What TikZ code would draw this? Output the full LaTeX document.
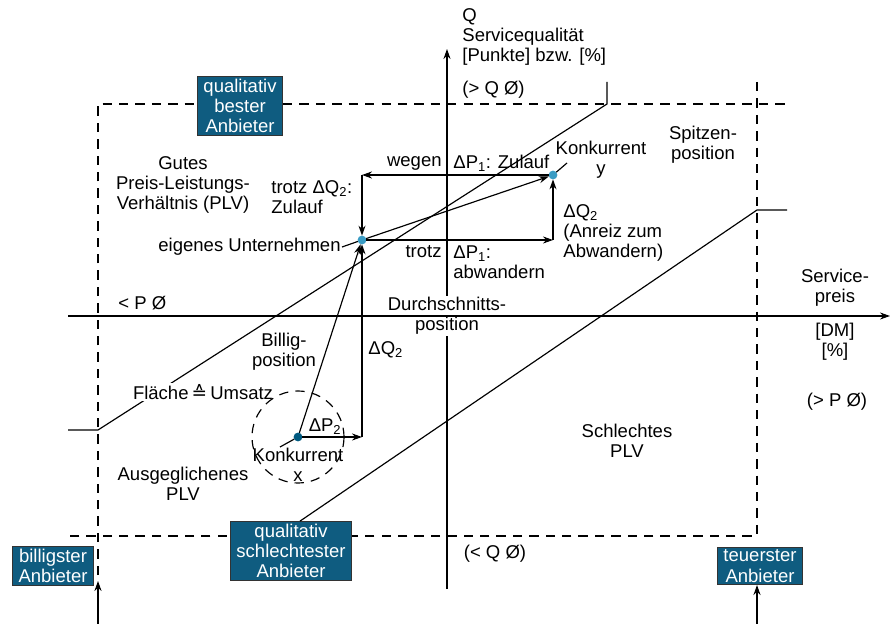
\documentclass[tikz,border=0pt]{standalone}
\usepackage{fontspec}
\setmainfont{Liberation Sans}
\newfontfamily\symfont{DejaVu Sans}
\usepackage{tikz}
\usetikzlibrary{arrows.meta,positioning,calc}
\definecolor{boxblue}{HTML}{0F5C80}
\definecolor{dotlight}{HTML}{3A9CC4}
\definecolor{dotdark}{HTML}{005A80}
\tikzset{
    rel line/.style={line width=1pt},
    arr/.style={->,>={Stealth[length=8.5pt,width=6pt]},line width=1pt},
    border line/.style={line width=1pt,dash pattern=on 8pt off 6pt},
    provider box/.style={fill=boxblue,draw=black!80,line width=0.8pt,text=white,align=center,inner xsep=5pt,inner ysep=2pt},
    firm dot/.style={circle,inner sep=0pt,outer sep=0pt,minimum size=7.5pt,fill=#1},
    txt/.style={align=center,inner sep=1pt},
}
\tikzstyle{every node}=[font=\fontsize{15.8}{17.3}\selectfont]

\begin{document}
\begin{tikzpicture}[x=0.03cm,y=-0.03cm]
        \useasboundingbox (0,0) rectangle (893,624);

        % dashed frame
        \draw[border line] (98,575) -- (98,104) -- (787,104);
        \draw[border line] (757,82) -- (757,536) -- (68,536);

        % providers
        \node[provider box] (best) at (240,106) {qualitativ\\bester\\Anbieter};
        \node[provider box] (cheap) at (53,566) {billigster\\Anbieter};
        \node[provider box] (worst) at (291,551) {qualitativ\\schlechtester\\Anbieter};
        \node[provider box] (dear) at (760,566) {teuerster\\Anbieter};
        \coordinate (cheap foot) at (98,624);
        \coordinate (cheap tip) at (98,581);
        \coordinate (dear foot) at (757,624);
        \draw[arr] (cheap foot) -- (cheap tip);
        \draw[arr] (dear foot) -- (dear.south -| dear foot);

        % axes
        \coordinate (Q0) at (447,589);
        \coordinate (Q1) at (447,49);
        \coordinate (P0) at (68,316);
        \coordinate (P1) at (890,316);
        \draw[arr] (Q0) -- (Q1);
        \node[txt, fill=white] (durch) at (447,316) {Durchschnitts-\\position};
        \draw[arr] (P0) -- (P1);

        % price-quality lines
        \coordinate (upper low) at (98,430);
        \coordinate (upper high) at (607,104);
        \draw[rel line] (68,430) -- (upper low) -- (upper high) -- (607,82);
        \coordinate (lower high) at (757,210);
        \draw[rel line] ($(worst.north)+(9,0)$) -- (lower high) -- (787,210);
        \node[txt, fill=white] (flaeche) at (203,392) {Fläche\,{\symfont ≙}\,Umsatz};

        % competitors
        \node[firm dot=dotlight] (own) at (362,240) {};
        \node[firm dot=dotlight] (rivaly) at (553,175) {};
        \node[firm dot=dotdark] (rivalx) at (298,437) {};
        \coordinate (c1) at (362,175);
        \coordinate (c2) at (553,240);
        \coordinate (c3) at (362,437);

        \draw[arr] (rivaly) -- (c1);
        \draw[arr] (c1) -- (own);
        \draw[arr] (own) -- (c2);
        \draw[arr] (c2) -- (rivaly);
        \draw[arr] (own) -- (rivaly);
        \draw[arr] (rivalx) -- (c3);
        \draw[arr] (c3) -- (own);
        \draw[arr] (rivalx) -- (own);
        \draw[border line] (rivalx) circle (1.38cm);

        % labels
        \node[txt, anchor=east] (ownlab) at (342,247) {eigenes Unternehmen};
        \draw[rel line] (ownlab.east) -- (own);
        \node[txt] (ylab) at (601,160) {Konkurrent\\y};
        \coordinate (ytip) at (567,163);
        \draw[rel line] (rivaly) -- (ytip);
        \node[txt] (xlab) at (298,465) {Konkurrent\\x};
        \coordinate (xtip) at (280,447);
        \draw[rel line] (rivalx) -- (xtip);

        \node[txt, anchor=west, align=left] (qlab) at (461,37) {Q\\Servicequalität\\{}[Punkte] bzw. [\%]};
        \node[txt, anchor=west] (qhigh) at (461,90) {(> Q Ø)};
        \node[txt] (top) at (703,145) {Spitzen-\\position};
        \node[txt, anchor=east] (wegen) at (443,163) {wegen};
        \node[txt, anchor=west] (zulauf) at (452,163) {ΔP\textsubscript{1}: Zulauf};
        \node[txt, anchor=west, align=left] (trotzq) at (270,197) {trotz ΔQ\textsubscript{2}:\\Zulauf};
        \node[txt] (good) at (183,185) {Gutes\\Preis-Leistungs-\\Verhältnis (PLV)};
        \node[txt, anchor=east] (trotz) at (443,252) {trotz};
        \node[txt, anchor=west, align=left] (abw) at (452,262) {ΔP\textsubscript{1}:\\abwandern};
        \node[txt, anchor=west, align=left] (anreiz) at (562,233) {ΔQ\textsubscript{2}\\(Anreiz zum\\Abwandern)};
        \node[txt] (plab) at (835,288) {Service-\\preis};
        \node[txt] (punit) at (835,342) {[DM]\\{}[\%]};
        \node[txt] (phigh) at (837,402) {(> P Ø)};
        \node[txt, anchor=west] (plow) at (117,303) {< P Ø};
        \node[txt] (billig) at (284,352) {Billig-\\position};
        \node[txt, anchor=west] (dq) at (367,350) {ΔQ\textsubscript{2}};
        \node[txt] (dp) at (325,427) {ΔP\textsubscript{2}};
        \node[txt] (even) at (183,484) {Ausgeglichenes\\PLV};
        \node[txt] (bad) at (627,441) {Schlechtes\\PLV};
        \node[txt] (qlow) at (495,554) {(< Q Ø)};
    \end{tikzpicture}
\end{document}
